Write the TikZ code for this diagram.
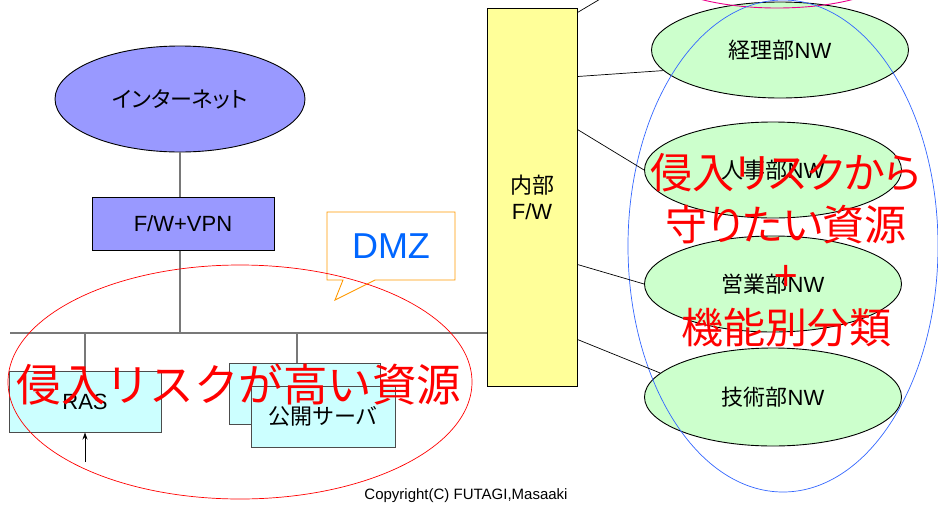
\documentclass[tikz,border=0pt]{standalone}
\usepackage{fontspec}
\setmainfont{Liberation Sans}
\newfontfamily\jp{Noto Sans CJK JP}
\newfontfamily\jpp{Noto Sans CJK JP}[RawFeature=+palt]
\usetikzlibrary{shapes.geometric,shapes.callouts,arrows.meta,calc}
\definecolor{inetblue}{RGB}{153,153,255}
\definecolor{lcyan}{RGB}{204,255,255}
\definecolor{lyellow}{RGB}{255,255,153}
\definecolor{lgreen}{RGB}{204,255,204}
\definecolor{dmzblue}{RGB}{0,102,255}
\definecolor{corange}{RGB}{255,153,0}
\definecolor{guardblue}{RGB}{51,102,255}
\definecolor{busgray}{RGB}{120,120,120}
\begin{document}
\begin{tikzpicture}[x=1pt,y=-1pt,
  lbl/.style={font=\fontsize{22}{26}\selectfont},
  box/.style={draw, rectangle, inner sep=0, line width=1pt, lbl},
  ell/.style={draw, ellipse, inner sep=0, line width=0.9pt, lbl},
  bus/.style={draw=busgray, line width=1.2pt},
  link/.style={draw=black, line width=0.7pt},
  redtxt/.style={text=red, inner sep=0}]
\useasboundingbox (0,0) rectangle (938,504);
\clip (0,0) rectangle (938,504);

% left part
\node[ell, fill=inetblue, minimum width=250, minimum height=106] (inet) at (180,99) {\jpp\fontsize{22}{26}\selectfont インターネット};
\node[box, fill=inetblue, minimum width=182, minimum height=53] (vpn) at (183,223.5) {F/W+VPN};
\node[box, fill=lyellow, minimum width=90, minimum height=378, align=center] (fw) at (532,197) {{\jp 内部}\\F/W};
\coordinate (busL) at (10,333);
\coordinate (kb) at (297,333);

\node[box, draw=black!70, fill=lcyan, minimum width=152, minimum height=61] (ras) at (85,401.5) {RAS};
\node[box, draw=black!70, fill=lcyan, minimum width=151, minimum height=61] (pubB) at (304.5,393.5) {};
\node[box, draw=black!70, fill=lcyan, minimum width=144, minimum height=61] (pub) at (323,416.5) {\jp 公開サーバ};
\coordinate (rasin) at (85,462);

\draw[bus] (inet.south) -- (inet.south |- vpn.north);
\draw[bus] (inet.south |- vpn.south) -- (inet.south |- busL);
\draw[bus] (busL) -- (fw.west |- busL);
\draw[bus] (ras.north |- busL) -- (ras.north);
\draw[bus] (kb) -- (kb |- pubB.north);
\draw[-{Stealth[length=7pt,width=5pt]}, line width=0.8pt] (rasin) -- (ras.south);

% DMZ callout
\node[rectangle callout, draw=corange, fill=white, line width=0.9pt, minimum width=128, minimum height=68,
  callout absolute pointer={(335,300)}, callout pointer width=32pt,
  text=dmzblue, font=\fontsize{36}{40}\selectfont] (dmz) at (391,246) {DMZ};

% high risk ellipse
\node[draw=red, ellipse, line width=0.7pt, minimum width=464, minimum height=234] (riskH) at (240,382) {};
\node[redtxt, font=\jp\fontsize{44.5}{48}\selectfont] (txtH) at (239,385) {侵入リスクが高い資源};

% right part
\node[ell, fill=lgreen, minimum width=257, minimum height=96] (keiri) at (780,50) {{\jp 経理部}NW};
\node[ell, fill=lgreen, minimum width=257, minimum height=96] (jinji) at (773,170) {{\jp 人事部}NW};
\node[ell, fill=lgreen, minimum width=257, minimum height=96] (eigyo) at (773,284) {{\jp 営業部}NW};
\node[ell, fill=lgreen, minimum width=257, minimum height=98] (gijutsu) at (773,397) {{\jp 技術部}NW};
\node[draw=magenta, ellipse, line width=0.9pt, minimum width=240, minimum height=76] (pink) at (777,-30) {};
\node[draw=guardblue, ellipse, line width=0.7pt, minimum width=310, minimum height=492] (guard) at (783,246) {};

\draw[link] ([yshift=-5pt]fw.north east) -- (pink.160);
\draw[link] ([yshift=-69pt]fw.north east) -- (keiri.190);
\draw[link] ([yshift=-122pt]fw.north east) -- (jinji.west);
\draw[link] ([yshift=-257pt]fw.north east) -- (eigyo.west);
\draw[link] ([yshift=-332pt]fw.north east) -- (gijutsu.168);

\node[redtxt, align=center, font=\jpp\fontsize{42}{51.5}\selectfont] (txtR) at (786,250) {侵入リスクから\\守りたい資源\\+\\機能別分類};

\node[font=\fontsize{15}{18}\selectfont, inner sep=0] (copy) at (466,496) {Copyright(C) FUTAGI,Masaaki};
\end{tikzpicture}
\end{document}
